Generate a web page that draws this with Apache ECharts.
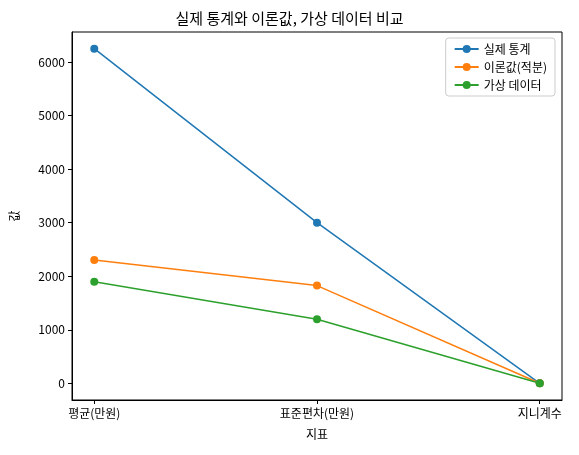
<!DOCTYPE html>
<html><head><meta charset="utf-8">
<script src="https://cdn.jsdelivr.net/npm/echarts@6/dist/echarts.min.js"></script>
<style>html,body{margin:0;padding:0;background:#fff}#c{width:579px;height:455px}</style>
</head><body><div id="c"></div>
<script>
const categories = ['평균(만원)', '표준편차(만원)', '지니계수'];
const seriesNames = ['실제 통계', '이론값(적분)', '가상 데이터'];
const actual = [6250, 3000, 0.4];
const theory = [2305, 1825, 0.4];
const virtualData = [1895, 1195, 0.4];
const yTicks = [0, 1000, 2000, 3000, 4000, 5000, 6000];
const colors = ['#1f77b4', '#ff7f0e', '#2ca02c'];
const F = 'Noto Sans CJK KR';
const chart = echarts.init(document.getElementById('c'));
const mk = (name, vals, c) => ({
  name, type: 'line', data: vals.map((v, i) => [i, v]),
  symbol: 'circle', symbolSize: 8, lineStyle: { width: 1.5, color: c },
  itemStyle: { color: c }, color: c
});
chart.setOption({
  animation: false,
  textStyle: { fontFamily: F },
  title: { text: '실제 통계와 이론값, 가상 데이터 비교', left: 'center', top: 6,
    textStyle: { fontFamily: F, fontSize: 15, fontWeight: 'normal', color: '#000' } },
  legend: { orient: 'vertical', right: 24, top: 38, itemGap: 6, itemWidth: 24, itemHeight: 10,
    textStyle: { fontFamily: F, fontSize: 12, color: '#000' },
    borderColor: '#ccc', borderWidth: 1, borderRadius: 3, padding: [5, 8] },
  grid: { left: 72, right: 17, top: 32, bottom: 55, show: true, borderColor: '#000', borderWidth: 1 },
  xAxis: { type: 'value', min: -0.1, max: 2.1, name: '지표', nameLocation: 'middle', nameGap: 28,
    nameTextStyle: { fontFamily: F, fontSize: 12, color: '#000' },
    splitLine: { show: false },
    axisLine: { onZero: false, lineStyle: { color: '#000' } },
    axisTick: { customValues: [0, 1, 2], length: 4, lineStyle: { color: '#000' } },
    axisLabel: { customValues: [0, 1, 2], formatter: v => categories[Math.round(v)], color: '#000', fontSize: 12, margin: 7 } },
  yAxis: { type: 'value', min: -312, max: 6562, name: '값', nameLocation: 'middle', nameGap: 52,
    nameTextStyle: { fontFamily: F, fontSize: 12, color: '#000' },
    splitLine: { show: false },
    axisLine: { show: true, onZero: false, lineStyle: { color: '#000' } },
    axisTick: { show: true, customValues: yTicks, length: 4, lineStyle: { color: '#000' } },
    axisLabel: { customValues: yTicks, formatter: v => String(v), color: '#000', fontSize: 12, margin: 7 } },
  series: [mk(seriesNames[0], actual, colors[0]), mk(seriesNames[1], theory, colors[1]), mk(seriesNames[2], virtualData, colors[2])]
});
</script></body></html>
